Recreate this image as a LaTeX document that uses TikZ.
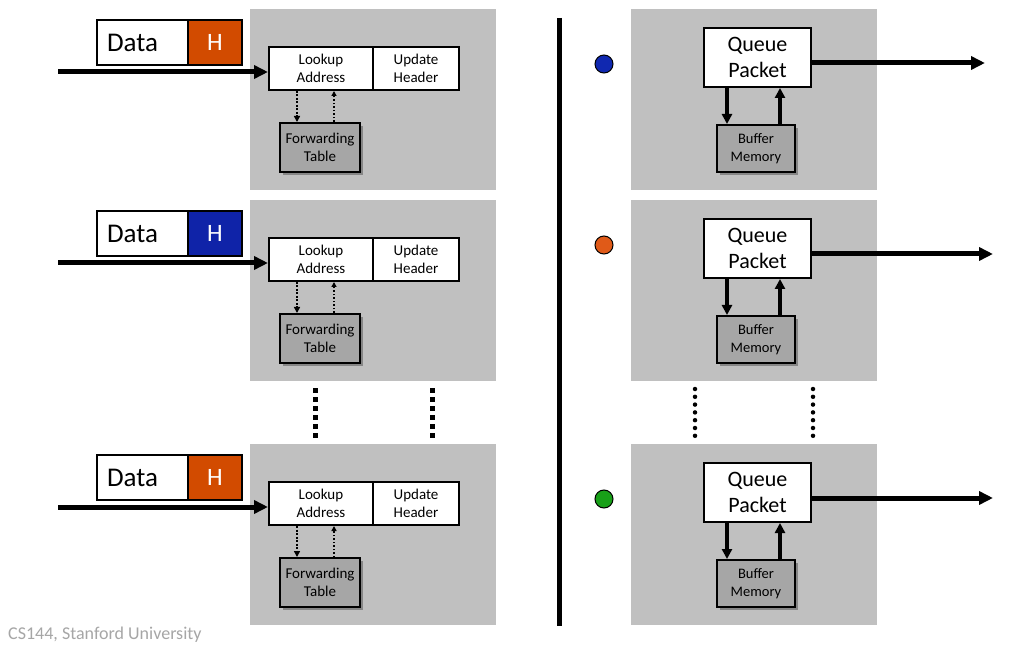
\documentclass[tikz,border=0pt]{standalone}
\usepackage{fontspec}
\setmainfont{Carlito}
\usetikzlibrary{arrows.meta,shadows,calc}
\definecolor{panelgray}{HTML}{C0C0C0}
\definecolor{boxgray}{HTML}{A6A6A6}
\definecolor{hor}{HTML}{D24B00}
\definecolor{hbl}{HTML}{0F23A8}
\definecolor{cbl}{HTML}{1028B0}
\definecolor{cor}{HTML}{E05A18}
\definecolor{cgr}{HTML}{18A018}
\definecolor{foot}{HTML}{A6A6A6}
\tikzset{
  panel/.style={fill=panelgray, draw=none},
  pktbox/.style={draw=black, line width=2pt, fill=white, inner sep=0pt, minimum height=45pt},
  procbox/.style={draw=black, line width=2pt, fill=white, inner sep=0pt, align=center, font=\fontsize{15}{18}\selectfont},
  grbox/.style={draw=black, line width=2pt, fill=boxgray, inner sep=0pt, align=center, font=\fontsize{15}{18}\selectfont,
    drop shadow={shadow xshift=3pt, shadow yshift=-3pt, fill=black, opacity=0.3}},
  qbox/.style={draw=black, line width=2pt, fill=white, inner sep=0pt, align=center, font=\fontsize{22}{25.5}\selectfont},
  fatarrow/.style={line width=5pt, -{Triangle[length=14pt,width=13pt]}},
  midarrow/.style={line width=3.5pt, -{Triangle[length=10pt,width=10pt]}},
  dotdown/.style={line width=2.4pt, dash pattern=on 2pt off 1.5pt, -{Triangle[length=6pt,width=6pt]}},
  dotup/.style={line width=1.3pt, dash pattern=on 1.5pt off 2pt, -{Triangle[length=5pt,width=5pt]}},
  vdotsq/.style={line width=5pt, dash pattern=on 4.5pt off 4.5pt},
  vdotrd/.style={line width=4.5pt, line cap=round, dash pattern=on 0pt off 7.8pt},
  dot/.style={circle, draw=black, line width=1pt, minimum size=18pt, inner sep=0pt},
}
\begin{document}
\begin{tikzpicture}[x=1pt,y=-1pt]
\useasboundingbox (0,0) rectangle (1013,647);
\fill[white] (0,0) rectangle (1013,647);
% separator
\draw[line width=5pt] (559,18) coordinate (sepa) -- (559,626) coordinate (sepb);
\foreach \i/\dy/\hc/\cc/\cy/\ox in {1/0/hor/cbl/64/985, 2/191/hbl/cor/245/993, 3/435/hor/cgr/499/993}{
  % panels
  \fill[panel] (250,9+\dy) rectangle (496,190+\dy);
  \fill[panel] (631,9+\dy) rectangle (877,190+\dy);
  % packet
  \node[pktbox, minimum width=91pt, text width=71pt, inner xsep=10pt, align=left, font=\fontsize{27}{30}\selectfont]
     (data\i) at (142.5,42.5+\dy) {Data};
  \node[pktbox, minimum width=54pt, fill=\hc, text=white, font=\fontsize{25}{28}\selectfont]
     (h\i) at (215,42.5+\dy) {H};
  % lookup / update
  \node[procbox, minimum width=104pt, minimum height=43pt] (lk\i) at (321,68.5+\dy) {Lookup\\Address};
  \node[procbox, minimum width=86pt, minimum height=43pt] (up\i) at (416,68.5+\dy) {Update\\Header};
  \node[grbox, minimum width=80pt, minimum height=49pt] (ft\i) at (320,147.5+\dy) {Forwarding\\Table};
  % input arrow
  \coordinate (in\i) at (58,72+\dy);
  \draw[fatarrow] (in\i) -- (in\i -| lk\i.west);
  % dotted lookups
  \draw[dotdown] ([xshift=18pt]ft\i.north west |- lk\i.south) -- ([xshift=18pt]ft\i.north west);
  \draw[dotup] ([xshift=55pt]ft\i.north west) -- ([xshift=55pt]ft\i.north west |- lk\i.south);
  % queue side
  \node[qbox, minimum width=107pt, minimum height=59pt] (qp\i) at (757.5,57.5+\dy) {Queue\\Packet};
  \node[grbox, font=\fontsize{14.5}{18}\selectfont, minimum width=78pt, minimum height=47pt] (bm\i) at (756,148.5+\dy) {Buffer\\Memory};
  \draw[midarrow] ([xshift=11pt]bm\i.north west |- qp\i.south) -- ([xshift=11pt]bm\i.north west);
  \draw[midarrow] ([xshift=64pt]bm\i.north west) -- ([xshift=64pt]bm\i.north west |- qp\i.south);
  \coordinate (out\i) at (\ox,63+\dy);
  \draw[fatarrow] (out\i -| qp\i.east) -- (out\i);
  % colour dot
  \node[dot, fill=\cc] (c\i) at (604,\cy) {};
}
% vertical ellipsis dots
\draw[vdotsq] (315,388) coordinate (la) -- (315,438) coordinate (lb);
\draw[vdotsq] (432,388) coordinate (lc) -- (432,438) coordinate (ld);
\draw[vdotrd] (695,389) coordinate (ra) -- (695,437) coordinate (rb);
\draw[vdotrd] (813,389) coordinate (rc) -- (813,437) coordinate (rd);
% footer
\node[anchor=west, text=foot, font=\fontsize{18}{20}\selectfont, inner sep=0pt] (foot) at (8,635) {CS144, Stanford University};
\end{tikzpicture}
\end{document}
